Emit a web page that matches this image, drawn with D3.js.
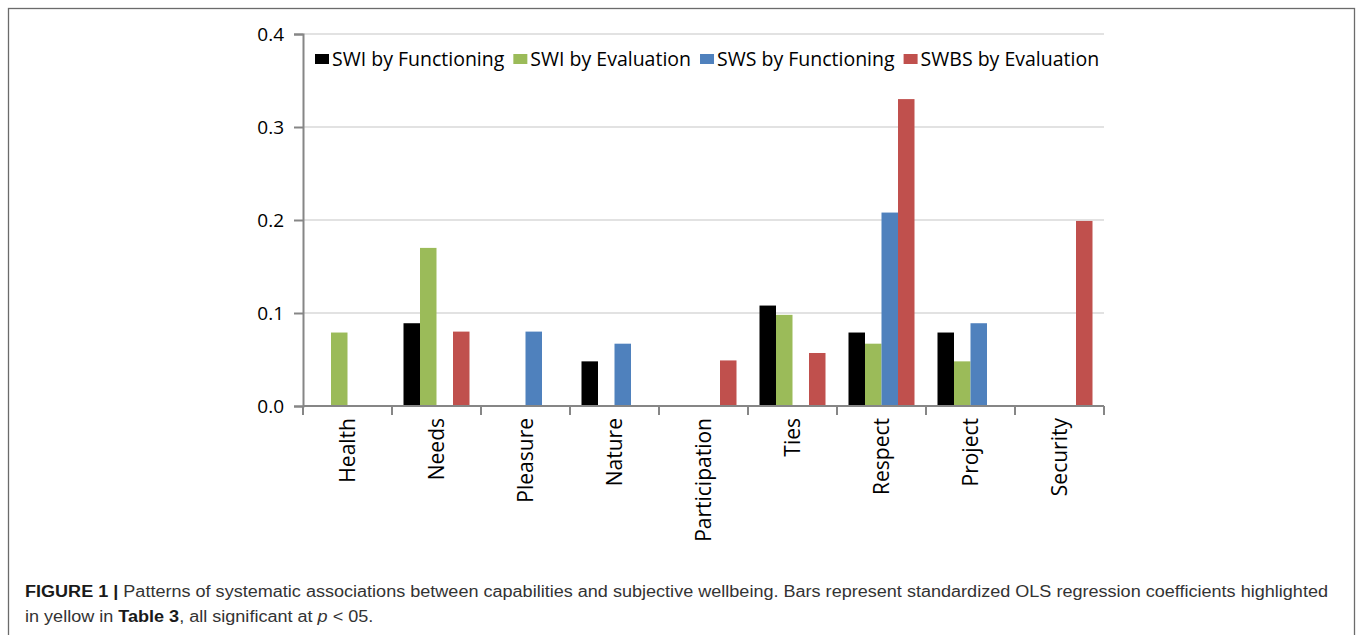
<!DOCTYPE html>
<html>
<head>
<meta charset="utf-8">
<script src="https://cdn.jsdelivr.net/npm/d3@7"></script>
<style>
  body { margin: 0; background: #fff; }
  svg { display: block; }
</style>
</head>
<body>
<svg id="chart" width="1357" height="635"></svg>
<script>
// data
var categories = ["Health", "Needs", "Pleasure", "Nature", "Participation", "Ties", "Respect", "Project", "Security"];
var seriesNames = ["SWI by Functioning", "SWI by Evaluation", "SWS by Functioning", "SWBS by Evaluation"];
var seriesColors = ["#000000", "#9bbb59", "#4f81bd", "#c0504d"];
// null = no bar
var swiFunctioning = [null, 0.089, null, 0.048, null, 0.108, 0.079, 0.079, null];
var swiEvaluation  = [0.079, 0.170, null, null, null, 0.098, 0.067, 0.048, null];
var swsFunctioning = [null, null, 0.080, 0.067, null, null, 0.208, 0.089, null];
var swbsEvaluation = [null, 0.080, null, null, 0.049, 0.057, 0.330, null, 0.199];
var yTicks = [0.0, 0.1, 0.2, 0.3, 0.4];

var seriesValues = [swiFunctioning, swiEvaluation, swsFunctioning, swbsEvaluation];

var svg = d3.select("#chart");

// frame around the figure
svg.append("rect")
	.attr("x", 8.5).attr("y", 8.5)
	.attr("width", 1346).attr("height", 660)
	.attr("fill", "none")
	.attr("stroke", "#6b6b6b")
	.attr("stroke-width", 1.3);

var plotLeft = 303, plotRight = 1104, plotTop = 34, plotBottom = 406;

var x0 = d3.scaleBand()
	.domain(categories)
	.range([plotLeft, plotRight]);

var bw = x0.bandwidth();
var x1 = d3.scaleBand()
	.domain(seriesNames)
	.range([11.5, bw - 11.5]);

var y = d3.scaleLinear()
	.domain([0, 0.4])
	.range([plotBottom, plotTop]);

// gridlines
svg.append("g")
	.selectAll("line")
	.data(yTicks.filter(function(d){ return d > 0; }))
	.enter().append("line")
	.attr("x1", plotLeft).attr("x2", plotRight)
	.attr("y1", function(d){ return y(d); })
	.attr("y2", function(d){ return y(d); })
	.attr("stroke", "#d9d9d9")
	.attr("stroke-width", 1.5);

// bars
var rows = [];
seriesValues.forEach(function(vals, si) {
	vals.forEach(function(v, ci) {
		if (v !== null) rows.push({cat: categories[ci], s: seriesNames[si], c: seriesColors[si], v: v});
	});
});

svg.append("g")
	.selectAll("rect")
	.data(rows)
	.enter().append("rect")
	.attr("x", function(d){ return x0(d.cat) + x1(d.s); })
	.attr("width", x1.bandwidth())
	.attr("y", function(d){ return y(d.v); })
	.attr("height", function(d){ return plotBottom - y(d.v); })
	.attr("fill", function(d){ return d.c; });

// y axis
var yAxis = d3.axisLeft(y)
	.tickValues(yTicks)
	.tickFormat(d3.format(".1f"))
	.tickSize(9)
	.tickPadding(10);

var gy = svg.append("g")
	.attr("transform", "translate(" + plotLeft + ",0)")
	.call(yAxis);
gy.select(".domain").attr("stroke", "#868686").attr("stroke-width", 2);
gy.selectAll(".tick line").attr("stroke", "#868686").attr("stroke-width", 2);
gy.selectAll(".tick text")
	.attr("fill", "#000")
	.style("font-family", "'Open Sans', sans-serif")
	.style("font-size", "19px");

// x axis: ticks at band boundaries
var gx = svg.append("g");
gx.append("line")
	.attr("x1", plotLeft).attr("x2", plotRight)
	.attr("y1", plotBottom).attr("y2", plotBottom)
	.attr("stroke", "#868686").attr("stroke-width", 2);

var bounds = categories.map(function(c){ return x0(c); }).concat([plotRight]);
gx.selectAll("line.tk")
	.data(bounds)
	.enter().append("line")
	.attr("class", "tk")
	.attr("x1", function(d){ return d; }).attr("x2", function(d){ return d; })
	.attr("y1", plotBottom).attr("y2", plotBottom + 9)
	.attr("stroke", "#868686").attr("stroke-width", 2);

gx.selectAll("text")
	.data(categories)
	.enter().append("text")
	.attr("transform", function(d){ return "translate(" + (x0(d) + bw / 2) + "," + 418 + ") rotate(-90)"; })
	.attr("text-anchor", "end")
	.attr("dy", "0.35em")
	.style("font-family", "'Open Sans', sans-serif")
	.style("font-size", "21px")
	.attr("fill", "#000")
	.text(function(d){ return d; });

// legend
var lg = svg.append("g");
var lx = 315;
seriesNames.forEach(function(name, i) {
	lg.append("rect")
		.attr("x", lx).attr("y", 54)
		.attr("width", 14).attr("height", 10)
		.attr("fill", seriesColors[i]);
	var t = lg.append("text")
		.attr("x", lx + 17).attr("y", 59)
		.attr("dy", "0.35em")
		.style("font-family", "'Open Sans', sans-serif")
		.style("font-size", "19.5px")
		.attr("fill", "#000")
		.text(name);
	lx += 17 + t.node().getComputedTextLength() + 9;
});

// caption
var cap = svg.append("g")
	.style("font-family", "'Liberation Sans', Arial, sans-serif")
	.style("font-size", "16px");

var line1 = cap.append("text").attr("x", 25).attr("y", 597).attr("fill", "#333");
line1.append("tspan").attr("font-weight", "bold").attr("fill", "#1a1a1a").text("FIGURE 1 | ");
line1.append("tspan").text("Patterns of systematic associations between capabilities and subjective wellbeing. Bars represent standardized OLS regression coefficients highlighted");

var line2 = cap.append("text").attr("x", 25).attr("y", 622).attr("fill", "#333");
line2.append("tspan").text("in yellow in ");
line2.append("tspan").attr("font-weight", "bold").attr("fill", "#1a1a1a").text("Table 3");
line2.append("tspan").text(", all significant at ");
line2.append("tspan").attr("font-style", "italic").text("p");
line2.append("tspan").text(" < 05.");

var len1 = line1.node().getComputedTextLength();
var k = 1303 / len1;
line1.attr("textLength", 1303).attr("lengthAdjust", "spacingAndGlyphs");
var len2 = line2.node().getComputedTextLength();
line2.attr("textLength", len2 * k).attr("lengthAdjust", "spacingAndGlyphs");
</script>
</body>
</html>
